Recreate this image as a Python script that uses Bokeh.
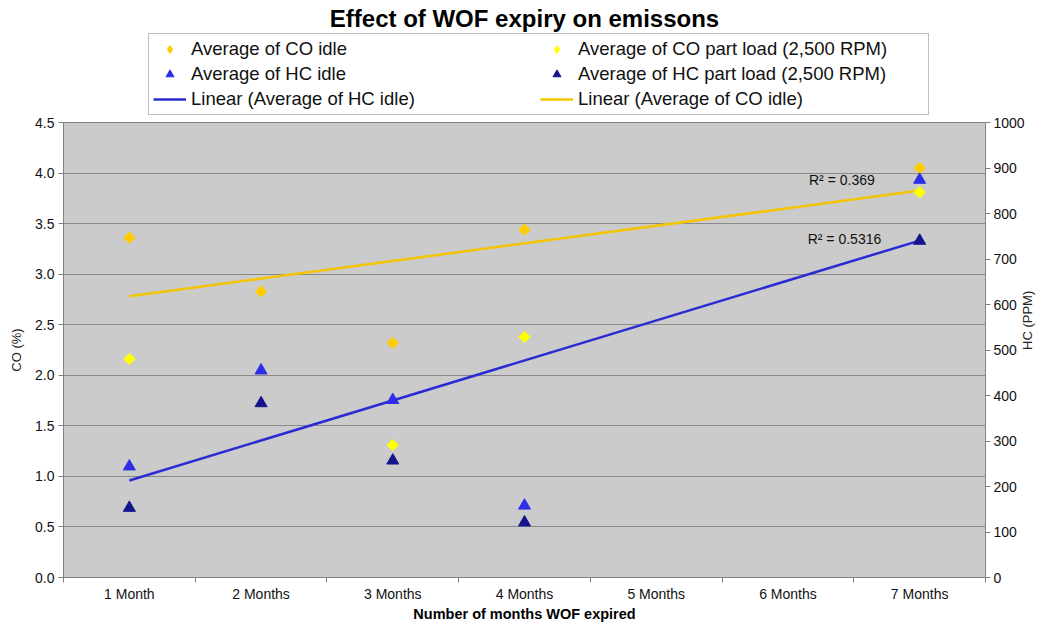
import math
import numpy as np
from bokeh.plotting import figure
from bokeh.layouts import column
from bokeh.models import (Range1d, LinearAxis, FixedTicker, NumeralTickFormatter,
                          Legend, LegendItem, Label)
from bokeh.embed import file_html
from bokeh.resources import INLINE

# ---- data -------------------------------------------------------------
categories = ["1 Month", "2 Months", "3 Months", "4 Months", "5 Months", "6 Months", "7 Months"]
months = [1, 2, 3, 4, 7]
co_idle = [3.36, 2.83, 2.32, 3.44, 4.05]
co_part_months = [1, 3, 4, 7]
co_part = [2.16, 1.31, 2.38, 3.81]
hc_idle = [244, 455, 390, 158, 874]
hc_part = [153, 383, 257, 121, 740]
r2_texts = ["R\u00b2 = 0.369", "R\u00b2 = 0.5316"]
title_text = "Effect of WOF expiry on emissons"
legend_labels = ["Average of CO idle", "Average of CO part load (2,500 RPM)",
                 "Average of HC idle", "Average of HC part load (2,500 RPM)",
                 "Linear (Average of HC idle)", "Linear (Average of CO idle)"]

co_ticks = [0.0, 0.5, 1.0, 1.5, 2.0, 2.5, 3.0, 3.5, 4.0, 4.5]
hc_ticks = [0, 100, 200, 300, 400, 500, 600, 700, 800, 900, 1000]

FONT = "Liberation Sans"
GRAY = "#808080"
C_CO_IDLE = "#FFCC00"
C_CO_PART = "#FFFF00"
C_HC_IDLE = "#2E2EE6"
C_HC_PART = "#14148C"
C_HC_LINE = "#2B2BD4"
C_CO_LINE = "#F5C400"

W = 1045
HEAD_H = 116
MAIN_H = 624 - HEAD_H

# =================== main chart =========================================
p = figure(width=W, height=MAIN_H, output_backend="svg", toolbar_location=None,
           x_range=Range1d(0.5, len(categories) + 0.5), y_range=Range1d(0, 4.5),
           min_border_left=63, min_border_right=60, min_border_top=6, min_border_bottom=0)
p.extra_y_ranges = {"hc": Range1d(0, 1000)}
p.background_fill_color = "#CBCBCB"
p.border_fill_color = "white"
p.outline_line_color = GRAY

# x axis
xa = p.xaxis[0]
xa.ticker = FixedTicker(ticks=list(range(1, len(categories) + 1)),
                        minor_ticks=[i + 0.5 for i in range(0, len(categories) + 1)])
xa.major_label_overrides = {i + 1: c for i, c in enumerate(categories)}
xa.major_tick_line_color = None
xa.major_tick_out = 5
xa.minor_tick_line_color = GRAY
xa.minor_tick_out = 5
xa.minor_tick_in = 0
xa.axis_line_color = GRAY
xa.major_label_text_font = FONT
xa.major_label_text_font_size = "14px"
xa.major_label_text_color = "#111111"
xa.major_label_standoff = 3
xa.axis_label = "Number of months WOF expired"
xa.axis_label_text_font = FONT
xa.axis_label_text_font_size = "14.5px"
xa.axis_label_text_font_style = "bold"
xa.axis_label_text_color = "#000000"
xa.axis_label_standoff = 1

# left axis
ya = p.yaxis[0]
ya.ticker = FixedTicker(ticks=co_ticks)
ya.formatter = NumeralTickFormatter(format="0.0")
ya.axis_line_color = GRAY
ya.major_tick_line_color = GRAY
ya.major_tick_out = 5
ya.major_tick_in = 0
ya.minor_tick_line_color = None
ya.major_label_text_font = FONT
ya.major_label_text_font_size = "14px"
ya.major_label_text_color = "#111111"
ya.major_label_standoff = 4
ya.axis_label = "CO (%)"
ya.axis_label_text_font = FONT
ya.axis_label_text_font_size = "13px"
ya.axis_label_text_font_style = "normal"
ya.axis_label_text_color = "#222222"
ya.axis_label_standoff = 8

# right axis
ra = LinearAxis(y_range_name="hc", ticker=FixedTicker(ticks=hc_ticks))
ra.axis_line_color = GRAY
ra.major_tick_line_color = GRAY
ra.major_tick_out = 5
ra.major_tick_in = 0
ra.minor_tick_line_color = None
ra.major_label_text_font = FONT
ra.major_label_text_font_size = "14px"
ra.major_label_text_color = "#111111"
ra.major_label_standoff = 3
ra.axis_label = "HC (PPM)"
ra.axis_label_orientation = math.pi / 2
ra.axis_label_text_font = FONT
ra.axis_label_text_font_size = "13px"
ra.axis_label_text_font_style = "normal"
ra.axis_label_text_color = "#222222"
ra.axis_label_standoff = 0
p.add_layout(ra, "right")

# grid
p.xgrid.grid_line_color = None
p.ygrid.ticker = FixedTicker(ticks=co_ticks)
p.ygrid.grid_line_color = "#8A8A8A"
p.ygrid.grid_line_width = 1

# trend lines: least squares over the category index
hc_fit = np.polyfit(months, hc_idle, 1)
co_fit = np.polyfit(months, co_idle, 1)
xs_fit = [min(months), max(months)]
p.line(xs_fit, list(np.polyval(hc_fit, xs_fit)), y_range_name="hc",
       line_color=C_HC_LINE, line_width=2.5)
p.line(xs_fit, list(np.polyval(co_fit, xs_fit)), line_color=C_CO_LINE, line_width=2.5)

# points (diamonds = squares turned by 45 degrees)
DIA = dict(marker="square", size=8, angle=math.pi / 4)
p.scatter(months, co_idle, fill_color=C_CO_IDLE, line_color=C_CO_IDLE, **DIA)
p.scatter(co_part_months, co_part, fill_color=C_CO_PART, line_color=C_CO_PART, **DIA)
p.scatter(months, hc_idle, marker="triangle", size=12, y_range_name="hc",
          fill_color=C_HC_IDLE, line_color=C_HC_IDLE)
p.scatter(months, hc_part, marker="triangle", size=12, y_range_name="hc",
          fill_color=C_HC_PART, line_color=C_HC_PART)

# R² labels
p.add_layout(Label(x=6.16, y=3.93, text=r2_texts[0], text_font=FONT, text_font_size="14px",
                   text_baseline="middle", text_color="#111111"))
p.add_layout(Label(x=6.15, y=3.345, text=r2_texts[1], text_font=FONT, text_font_size="14px",
                   text_baseline="middle", text_color="#111111"))

# =================== header: title + legend =============================
head = figure(width=W, height=HEAD_H, output_backend="svg", toolbar_location=None,
              x_range=Range1d(0, 1), y_range=Range1d(0, HEAD_H),
              x_axis_location=None, y_axis_location=None, min_border=0)
head.grid.visible = False
head.outline_line_color = None
head.background_fill_color = "white"
head.border_fill_color = "white"

head.add_layout(Label(x=0.5, y=HEAD_H - 18, text=title_text, text_font=FONT,
                      text_font_size="24px", text_font_style="bold", text_color="#000000",
                      text_align="center", text_baseline="middle"))

# legend swatches: styled like the series of the chart, with no visible points
nan = float("nan")
g_co_idle = head.scatter([nan], [nan], marker="diamond", size=12, fill_color=C_CO_IDLE, line_color=C_CO_IDLE)
g_co_part = head.scatter([nan], [nan], marker="diamond", size=12, fill_color=C_CO_PART, line_color=C_CO_PART)
g_hc_idle = head.scatter([nan], [nan], marker="triangle", size=12, fill_color=C_HC_IDLE, line_color=C_HC_IDLE)
g_hc_part = head.scatter([nan], [nan], marker="triangle", size=12, fill_color=C_HC_PART, line_color=C_HC_PART)
g_hc_line = head.line([nan, nan], [nan, nan], line_color=C_HC_LINE, line_width=2.5)
g_co_line = head.line([nan, nan], [nan, nan], line_color=C_CO_LINE, line_width=2.5)

legend = Legend(items=[LegendItem(label=l, renderers=[r]) for l, r in zip(
    legend_labels, [g_co_idle, g_co_part, g_hc_idle, g_hc_part, g_hc_line, g_co_line])],
    location=(85, 1), orientation="horizontal", ncols=2)
legend.margin = 0
legend.padding = 4
legend.spacing = 3
legend.glyph_width = 33
legend.glyph_height = 20
legend.label_height = 20
legend.label_standoff = 5
legend.label_width = 346
legend.label_text_font = FONT
legend.label_text_font_size = "18.5px"
legend.label_text_color = "#111111"
legend.border_line_color = GRAY
legend.border_line_width = 1
legend.background_fill_color = "white"
legend.background_fill_alpha = 1.0
head.add_layout(legend, "center")

layout = column(head, p, spacing=0)
open("out.html", "w").write(file_html(layout, INLINE))
